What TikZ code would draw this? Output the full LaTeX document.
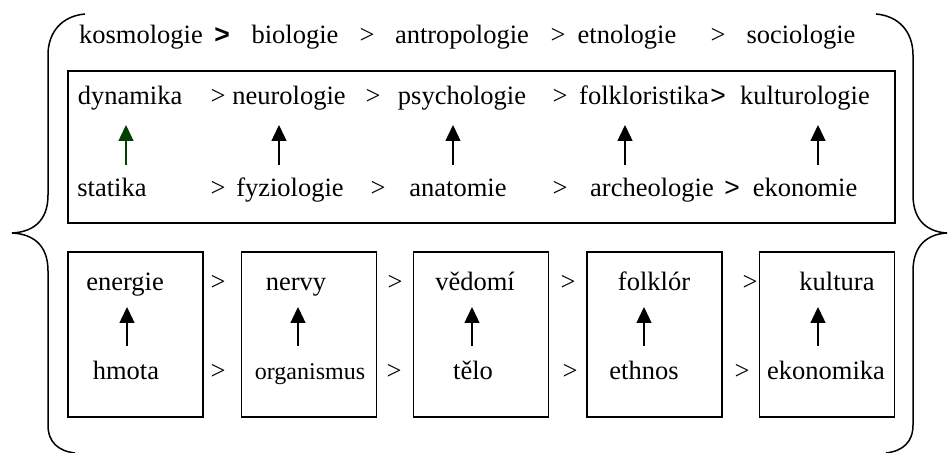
\documentclass[tikz,border=0pt]{standalone}
\usepackage{fontspec}
\setmainfont{Liberation Serif}
\setsansfont{Liberation Sans}
\usepackage{tikz}
\usetikzlibrary{arrows.meta,positioning}
\definecolor{darkgreen}{RGB}{0,64,0}
\tikzset{
  word/.style={anchor=base,inner sep=0pt,font=\fontsize{13.25}{16}\selectfont},
  sgt/.style={word,font=\fontsize{13.25}{16}\selectfont\sffamily},
  box/.style={draw,line width=0.75pt,minimum width=67.5pt,minimum height=82.5pt,inner sep=0pt},
  up/.style={-{Triangle[width=7.5pt,length=8pt]},line width=0.7pt},
}
\begin{document}
\begin{tikzpicture}[x=0.5pt,y=-0.5pt]
      \useasboundingbox (0,0) rectangle (948,453);

      % brace
      \draw[line width=0.75pt] (85,14) .. controls (62,16) and (48,32) .. (48,55)
        -- (48,195) .. controls (48,222) and (32,232) .. (12,233)
        .. controls (32,234) and (48,244) .. (48,271)
        -- (48,425) .. controls (48,442) and (58,451) .. (75,453);
      \draw[line width=0.75pt] (876,14) .. controls (899,16) and (913,32) .. (913,55)
        -- (913,195) .. controls (913,222) and (929,232) .. (947,233)
        .. controls (929,234) and (913,244) .. (913,271)
        -- (913,425) .. controls (913,442) and (903,451) .. (886,453);

      \node[word] (kosm) at (141,44) {kosmologie};
      \node[sgt,font=\fontsize{13.25}{16}\selectfont\sffamily\bfseries] (g1) at (222,44) {>};
      \node[word] (biol) at (295,44) {biologie};
      \node[word] (g2) at (367,44) {>};
      \node[word] (antr) at (462,44) {antropologie};
      \node[word] (g3) at (558,44) {>};
      \node[word] (etno) at (627,44) {etnologie};
      \node[word] (g4) at (718,44) {>};
      \node[word] (soci) at (801,44) {sociologie};

      \node[draw,line width=0.75pt,minimum width=413.5pt,minimum height=76pt,inner sep=0pt] (mid) at (481.5,147) {};

      \node[word] (dyna) at (130,105) {dynamika};
      \node[word] (m1) at (218,105) {>};
      \node[word] (neur) at (289,105) {neurologie};
      \node[word] (m2) at (373,105) {>};
      \node[word] (psyc) at (462,105) {psychologie};
      \node[word] (m3) at (560,105) {>};
      \node[word] (folk) at (644,105) {folkloristika};
      \node[sgt] (m4) at (718,105) {>};
      \node[word] (kult) at (805,105) {kulturologie};

      \node[word] (stat) at (112,197) {statika};
      \node[word] (s1) at (218,197) {>};
      \node[word] (fyzi) at (290,197) {fyziologie};
      \node[word] (s2) at (378,197) {>};
      \node[word] (anat) at (458,197) {anatomie};
      \node[word] (s3) at (560,197) {>};
      \node[word] (arch) at (652,197) {archeologie};
      \node[sgt] (s4) at (732,197) {>};
      \node[word] (ekon) at (805,197) {ekonomie};

      \coordinate (t1) at (126,125);  \coordinate (b1) at (126,165);
      \coordinate (t2) at (279,125);  \coordinate (b2) at (279,165);
      \coordinate (t3) at (453,125);  \coordinate (b3) at (453,165);
      \coordinate (t4) at (625,125);  \coordinate (b4) at (625,165);
      \coordinate (t5) at (818,125);  \coordinate (b5) at (818,165);
      \draw[up,darkgreen] (b1) -- (t1);
      \draw[up] (b2) -- (t2);
      \draw[up] (b3) -- (t3);
      \draw[up] (b4) -- (t4);
      \draw[up] (b5) -- (t5);

      \node[box] (box1) at (135.5,334.5) {};
      \node[box] (box2) at (309,334.5) {};
      \node[box] (box3) at (481,334.5) {};
      \node[box] (box4) at (654.5,334.5) {};
      \node[box] (box5) at (827,334.5) {};

      \node[word] (ener) at (125,291) {energie};
      \node[word] (nerv) at (296,291) {nervy};
      \node[word] (vedo) at (475,291) {vědomí};
      \node[word] (fklr) at (654,291) {folklór};
      \node[word] (kltr) at (837,291) {kultura};

      \node[word] (hmot) at (126,380) {hmota};
      \node[word,font=\fontsize{12}{14}\selectfont] (orga) at (310,380) {organismus};
      \node[word] (telo) at (473,380) {tělo};
      \node[word] (ethn) at (644,380) {ethnos};
      \node[word] (ekmk) at (826,380) {ekonomika};

      \node[word] (u1) at (218,291) {>};
      \node[word] (u2) at (395,291) {>};
      \node[word] (u3) at (568,291) {>};
      \node[word] (u4) at (750,291) {>};
      \node[word] (d1) at (218,380) {>};
      \node[word] (d2) at (394,380) {>};
      \node[word] (d3) at (570,380) {>};
      \node[word] (d4) at (742,380) {>};

      \coordinate (p1) at (127,307);  \coordinate (q1) at (127,346);
      \coordinate (p2) at (298,307);  \coordinate (q2) at (298,346);
      \coordinate (p3) at (472,307);  \coordinate (q3) at (472,346);
      \coordinate (p4) at (644,307);  \coordinate (q4) at (644,346);
      \coordinate (p5) at (818,307);  \coordinate (q5) at (818,346);
      \draw[up] (q1) -- (p1);
      \draw[up] (q2) -- (p2);
      \draw[up] (q3) -- (p3);
      \draw[up] (q4) -- (p4);
      \draw[up] (q5) -- (p5);
\end{tikzpicture}
\end{document}
